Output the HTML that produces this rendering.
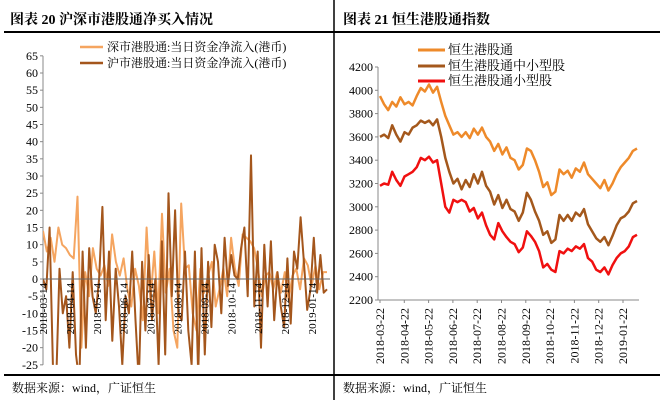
<!DOCTYPE html>
<html><head><meta charset="utf-8">
<style>
body{margin:0;background:#fff;}
svg{display:block;font-family:"Liberation Serif","Noto Serif CJK SC","Noto Sans CJK SC",serif;}
</style></head><body>
<svg width="660" height="400" viewBox="0 0 660 400">
<text x="10" y="24" font-size="14" font-weight="bold">图表 20 沪深市港股通净买入情况</text>
<text x="343" y="24" font-size="14" font-weight="bold">图表 21 恒生港股通指数</text>
<line x1="4" y1="32" x2="660" y2="32" stroke="#000" stroke-width="2"/>
<line x1="4" y1="375" x2="660" y2="375" stroke="#000" stroke-width="2"/>
<line x1="334" y1="0" x2="334" y2="400" stroke="#000" stroke-width="1.5"/>
<text x="12" y="392" font-size="12">数据来源：wind，广证恒生</text>
<text x="343" y="392" font-size="12">数据来源：wind，广证恒生</text>
<g id="left"></g>
<g id="right"></g>
</svg>
<script>
const leftTicks=[65,60,55,50,45,40,35,30,25,20,15,10,5,0,-5,-10,-15,-20,-25];
const leftDates=["2018-03-14","2018-04-14","2018-05-14","2018-06-14","2018-07-14","2018-08-14","2018-09-14","2018-10-14","2018-11-14","2018-12-14","2019-01-14"];
const szFlow=[14,8,12,5,15,10,9,7,6,24,-20,2,-5,9,3,1,4,-2,13,5,1,6,-3,-8,3,-2,-12,15,-6,8,-10,19,-4,3,-15,-20,22,3,4,-10,-15,3,-4,1,5,-8,-3,3,-5,12,3,-2,13,12,11,9,3,-5,1,2,-3,2,-4,2,-6,1,3,-3,6,4,-2,4,-3,2,2];
const shFlow=[0,-3,15,-25,-30,3,-10,-5,-20,2,-22,-30,8,-20,9,-5,-10,0,21,-12,8,-18,3,-8,-25,-5,-10,8,-12,-30,5,-15,7,-12,0,-25,11,-22,25,-5,20,-10,-12,8,-15,-25,8,-28,9,-22,5,-14,10,5,-10,12,-2,7,1,0,9,15,-5,36,-8,8,-20,10,-8,11,-12,2,-8,-14,6,-13,8,3,18,5,-9,-3,12,-4,7,-4,-3];
const rightTicks=[4200,4000,3800,3600,3400,3200,3000,2800,2600,2400,2200];
const rightDates=["2018-03-22","2018-04-22","2018-05-22","2018-06-22","2018-07-22","2018-08-22","2018-09-22","2018-10-22","2018-11-22","2018-12-22","2019-01-22"];
const hsMain=[3950,3880,3830,3900,3860,3940,3880,3900,3870,3950,4020,3990,4050,3980,4030,3900,3780,3700,3620,3640,3600,3640,3590,3670,3620,3680,3600,3560,3480,3540,3450,3510,3420,3400,3320,3360,3500,3480,3400,3300,3170,3210,3100,3130,3320,3280,3310,3250,3330,3300,3380,3280,3240,3200,3160,3230,3140,3200,3280,3340,3380,3420,3480,3500];
const hsMid=[3600,3620,3590,3700,3620,3560,3640,3620,3680,3700,3740,3720,3740,3700,3750,3600,3420,3300,3200,3240,3150,3230,3170,3280,3200,3300,3180,3130,3020,3100,2990,3060,2980,2960,2880,2950,3120,3060,2960,2880,2760,2790,2690,2720,2930,2880,2930,2880,2950,2920,2980,2850,2790,2730,2700,2740,2670,2750,2840,2900,2920,2960,3030,3050];
const hsSmall=[3180,3200,3190,3300,3230,3180,3260,3280,3300,3340,3420,3400,3430,3380,3400,3200,3000,2950,3060,3040,3060,3040,2960,2990,2900,2950,2840,2760,2720,2860,2790,2740,2700,2680,2610,2650,2790,2750,2700,2620,2480,2510,2460,2440,2620,2600,2640,2620,2660,2640,2680,2560,2530,2460,2440,2480,2420,2500,2560,2600,2620,2660,2740,2760];

const NS="http://www.w3.org/2000/svg";
function mk(parent,tag,attrs,text){const e=document.createElementNS(NS,tag);for(const k in attrs)e.setAttribute(k,attrs[k]);if(text!==undefined)e.textContent=text;parent.appendChild(e);return e;}

// LEFT
const L=document.getElementById('left');
const lx0=43,lx1=327,ly=v=>279-v*(309/90);
const defs=mk(L,'defs',{});
const cp=mk(defs,'clipPath',{id:'lclip'});mk(cp,'rect',{x:lx0,y:ly(65)-2,width:lx1-lx0+4,height:ly(-25)-ly(65)+2});
leftTicks.forEach(t=>{
 const tx=mk(L,'text',{x:38,y:ly(t)+4,'font-size':12,'text-anchor':'end'},String(t));
 
 
 const tk=mk(L,'line',{x1:lx0-3,x2:lx0,y1:ly(t),y2:ly(t),stroke:'#888'});
 
 
});
const ax=mk(L,'line',{x1:lx0,x2:lx0,y1:ly(65),y2:ly(-25),stroke:'#888'});


function lline(arr,color,name){
 const n=arr.length;const pts=arr.map((v,i)=>(lx0+i*(lx1-lx0)/(n-1)).toFixed(1)+','+ly(v).toFixed(1)).join(' ');
 const p=mk(L,'polyline',{points:pts,fill:'none',stroke:color,'stroke-width':2,'clip-path':'url(#lclip)','stroke-linejoin':'round'});
 
 
}
lline(szFlow,'#F5A560','sz-flow-line');
lline(shFlow,'#A4561C','sh-flow-line');
const zl=mk(L,'line',{x1:lx0,x2:lx1+3,y1:ly(0),y2:ly(0),stroke:'#666','stroke-width':1});


leftDates.forEach((d,i)=>{
 const x=lx0+i*26.9;
 const t=mk(L,'text',{x:0,y:0,'font-size':11,'text-anchor':'end',transform:`translate(${x+4},${ly(0)+4}) rotate(-90)`},d);
 
 
});
[["深市港股通:当日资金净流入(港币)",'#F5A560',47],["沪市港股通:当日资金净流入(港币)",'#A4561C',63]].forEach(([s,c,y])=>{
 const g=mk(L,'g',{});
 
 
 mk(g,'line',{x1:80,x2:103,y1:y,y2:y,stroke:c,'stroke-width':2.5});
 mk(g,'text',{x:107,y:y+4,'font-size':12},s);
});

// RIGHT
const R=document.getElementById('right');
const rx0=378,rx1=637,ry=v=>300-(v-2200)*(233/2000);
rightTicks.forEach(t=>{
 const tx=mk(R,'text',{x:373,y:ry(t)+4,'font-size':12,'text-anchor':'end'},String(t));
 
 
 const tk=mk(R,'line',{x1:rx0-3,x2:rx0,y1:ry(t),y2:ry(t),stroke:'#888'});
 
 
});
const ray=mk(R,'line',{x1:rx0,x2:rx0,y1:ry(4200),y2:ry(2200),stroke:'#888'});


const rax=mk(R,'line',{x1:rx0,x2:rx1+2,y1:ry(2200),y2:ry(2200),stroke:'#888'});


rightDates.forEach((d,i)=>{
 const x=380+i*24.3;
 const tk=mk(R,'line',{x1:x,x2:x,y1:ry(2200),y2:ry(2200)+3,stroke:'#888'});
 
 
 const t=mk(R,'text',{x:0,y:0,'font-size':12,'text-anchor':'end',transform:`translate(${x+4},${ry(2200)+8}) rotate(-90)`},d);
 
 
});
function rline(arr,color,name){
 const n=arr.length;const pts=arr.map((v,i)=>(380+i*(rx1-380)/(n-1)).toFixed(1)+','+ry(v).toFixed(1)).join(' ');
 const p=mk(R,'polyline',{points:pts,fill:'none',stroke:color,'stroke-width':2.5,'stroke-linejoin':'round'});
 
 
}
rline(hsMain,'#EE8A2A','hs-connect-line');
rline(hsMid,'#A4581C','hs-midsmall-line');
rline(hsSmall,'#F01010','hs-small-line');
[["恒生港股通",'#EE8A2A',50],["恒生港股通中小型股",'#A4581C',66],["恒生港股通小型股",'#F01010',81]].forEach(([s,c,y])=>{
 const g=mk(R,'g',{});
 
 
 mk(g,'line',{x1:418,x2:445,y1:y,y2:y,stroke:c,'stroke-width':3});
 mk(g,'text',{x:448,y:y+4,'font-size':13},s);
});
</script>
</body></html>
